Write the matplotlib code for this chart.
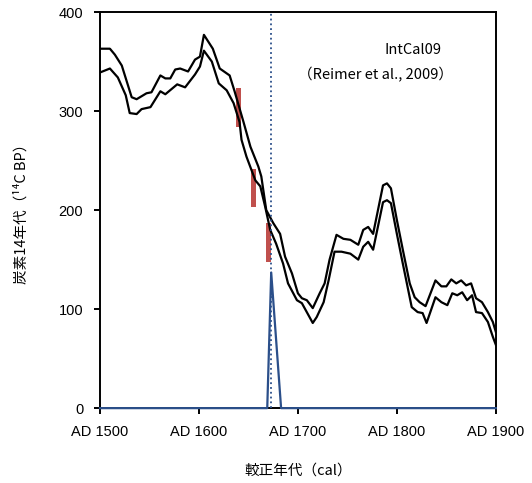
import numpy as np
import matplotlib
matplotlib.use("Agg")
from matplotlib import pyplot as plt

# IntCal09 band, upper edge
upper_years = [1500, 1510, 1515, 1522, 1532, 1537, 1547, 1552, 1561, 1566, 1571, 1576, 1581, 1589,
               1596, 1601, 1605, 1614, 1621, 1631, 1636, 1645, 1652, 1660, 1663, 1668, 1675, 1682,
               1687, 1694, 1700, 1704, 1709, 1715, 1722, 1727, 1732, 1739, 1746, 1753, 1761, 1766,
               1771, 1776, 1786, 1790, 1794, 1800, 1806, 1813, 1818, 1823, 1829, 1839, 1845, 1850,
               1855, 1860, 1865, 1870, 1875, 1880, 1886, 1892, 1897, 1900]
upper_vals = [363, 363, 357, 346, 314, 312, 318, 319, 336, 333, 333, 342, 343, 340,
              352, 355, 377, 363, 343, 336, 320, 289, 264, 244, 234, 200, 187, 176,
              153, 136, 116, 111, 109, 101, 116, 126, 150, 175, 171, 170, 165, 180,
              183, 176, 225, 227, 222, 190, 160, 126, 112, 107, 103, 129, 123, 123,
              130, 126, 129, 124, 126, 111, 107, 97, 87, 77]

# IntCal09 band, lower edge
lower_years = [1500, 1510, 1518, 1526, 1530, 1537, 1542, 1551, 1561, 1566, 1578, 1586, 1596, 1601,
               1605, 1613, 1620, 1628, 1635, 1641, 1643, 1648, 1657, 1662, 1667, 1672, 1678, 1685,
               1690, 1699, 1704, 1715, 1719, 1726, 1731, 1737, 1744, 1753, 1761, 1766, 1771, 1776,
               1786, 1790, 1794, 1800, 1806, 1815, 1821, 1826, 1830, 1839, 1845, 1851, 1856, 1861,
               1866, 1871, 1876, 1880, 1886, 1892, 1897, 1900]
lower_vals = [339, 343, 334, 316, 298, 297, 302, 304, 320, 317, 327, 324, 337, 345,
              361, 350, 328, 321, 308, 289, 271, 254, 230, 224, 203, 180, 166, 146,
              126, 109, 106, 86, 92, 107, 129, 158, 158, 156, 150, 163, 168, 160,
              208, 210, 207, 176, 146, 102, 97, 96, 86, 112, 107, 104, 116, 114,
              117, 109, 114, 97, 96, 87, 72, 64]

# measured ages (wiggle match samples)
sample_years = [1640, 1655, 1670]
sample_low = [284, 203, 148]
sample_high = [323, 242, 187]

# calibrated probability
prob_years = [1500, 1669, 1673, 1683, 1900]
prob_vals = [0, 0, 137, 0, 0]
best_year = 1673

cjk = ["Noto Sans CJK JP", "DejaVu Sans"]
plt.rcParams["font.family"] = ["Liberation Sans", "DejaVu Sans"]

fig = plt.figure(figsize=(5.32, 4.83), dpi=100)
ax = fig.add_axes([0.188, 0.155, 0.744, 0.82])

ax.plot(upper_years, upper_vals, color="black", lw=1.6, zorder=3)
ax.plot(lower_years, lower_vals, color="black", lw=1.6, zorder=3)

ax.bar(sample_years, np.array(sample_high) - np.array(sample_low), bottom=sample_low,
       width=5, color="#C0504D", zorder=2)

ax.plot(prob_years, prob_vals, color="#2B4F8A", lw=1.6, zorder=4, clip_on=False)
ax.axvline(best_year, color="#2B4F8A", ls=":", lw=1.3, zorder=4)

ax.set_xlim(1500, 1900)
ax.set_ylim(0, 400)
ax.set_xticks([1500, 1600, 1700, 1800, 1900])
ax.set_xticklabels(["AD 1500", "AD 1600", "AD 1700", "AD 1800", "AD 1900"])
ax.set_yticks([0, 100, 200, 300, 400])

for s in ax.spines.values():
    s.set_linewidth(1.4)
ax.tick_params(direction="out", length=4, width=1.4, labelsize=10.5, pad=8)

ax.text(0.792, 0.904, "IntCal09", transform=ax.transAxes, ha="center", va="center",
        fontsize=10.5, family=cjk)
ax.text(0.697, 0.843, "（Reimer et al., 2009）", transform=ax.transAxes, ha="center",
        va="center", fontsize=10.5, family=cjk)

ax.set_xlabel("較正年代（cal）", fontsize=10.5, family=cjk, labelpad=18)
ax.set_ylabel("炭素14年代（¹⁴C BP）", fontsize=10.5, family=cjk, labelpad=22)

fig.savefig("out.png", dpi=100)
